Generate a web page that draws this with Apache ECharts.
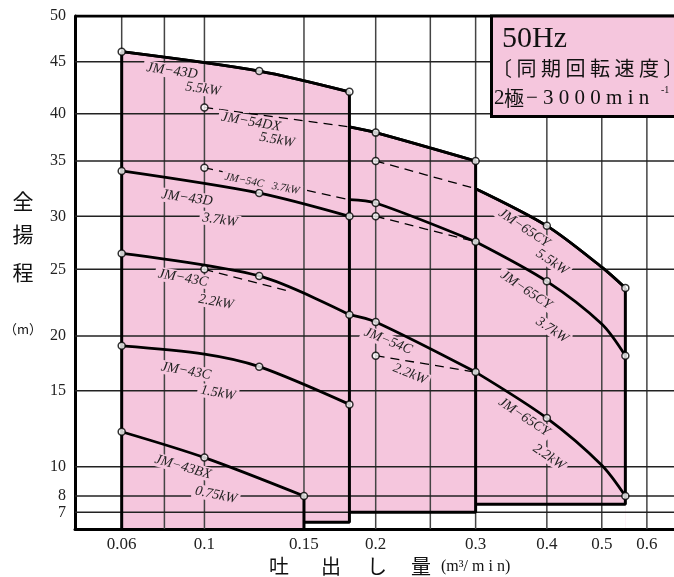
<!DOCTYPE html>
<html>
<head>
<meta charset="utf-8">
<script src="https://cdn.jsdelivr.net/npm/echarts@6/dist/echarts.min.js"></script>
<style>
  html, body { margin: 0; padding: 0; background: #fff; }
  #main { width: 674px; height: 577px; }
</style>
</head>
<body>
<div id="main"></div>
<script>
// 吐出し量 (m3/min) 目盛
const xTickLabels = [0.06, 0.1, 0.15, 0.2, 0.3, 0.4, 0.5, 0.6];
const xGridValues = [0.06, 0.08, 0.1, 0.15, 0.2, 0.25, 0.3, 0.4, 0.5, 0.6];
// 全揚程 (m) 目盛
const yTickLabels = [7, 8, 10, 15, 20, 25, 30, 35, 40, 45, 50];

// 性能曲線 [吐出し量, 全揚程]  (実線)
const jm43d55 = [[0.06, 46.1], [0.125, 44.1], [0.18, 42.1]];
const jm43d37 = [[0.06, 34.1], [0.125, 32.1], [0.18, 30]];
const jm43c22 = [[0.06, 26.5], [0.125, 24.5], [0.18, 21.6]];
const jm43c15 = [[0.06, 19.1], [0.1, 18.35], [0.125, 17.2], [0.18, 14.1]];
const jm43bx075 = [[0.06, 12.3], [0.1, 10.6], [0.15, 8]];
const jm54dx55 = [[0.18, 38.6], [0.2, 38], [0.3, 35]];
const jm54c37 = [[0.18, 31.5], [0.2, 31.2], [0.3, 27.6]];
const jm54c22 = [[0.18, 21.6], [0.2, 21.05], [0.3, 16.7]];
const jm65cy55 = [[0.3, 32.5], [0.4, 29.1], [0.5, 25.2], [0.55, 23.6]];
const jm65cy37 = [[0.3, 27.6], [0.4, 24.1], [0.5, 20.9], [0.55, 18.2]];
const jm65cy22 = [[0.3, 16.7], [0.4, 13.2], [0.5, 10.1], [0.55, 8]];
// 破線部分
const jm54dx55d = [[0.1, 40.6], [0.18, 38.6]];
const jm54c37d = [[0.1, 34.4], [0.18, 31.5]];
const jm54c22d = [[0.1, 25], [0.14, 23.4]];
const jm65cy55d = [[0.2, 35], [0.3, 32.5]];
const jm65cy37d = [[0.2, 30], [0.3, 27.6]];
const jm65cy22d = [[0.2, 18.2], [0.3, 16.7]];
// 丸印
const ratedPoints = [
  [0.06, 46.1], [0.125, 44.1], [0.18, 42.1],
  [0.1, 40.6], [0.2, 38], [0.3, 35],
  [0.1, 34.4], [0.2, 31.2], [0.3, 27.6],
  [0.2, 35], [0.4, 29.1], [0.55, 23.6],
  [0.06, 34.1], [0.125, 32.1], [0.18, 30],
  [0.2, 30], [0.4, 24.1], [0.55, 18.2],
  [0.06, 26.5], [0.125, 24.5], [0.18, 21.6],
  [0.1, 25], [0.2, 21.05], [0.3, 16.7],
  [0.2, 18.2], [0.4, 13.2], [0.55, 8],
  [0.06, 19.1], [0.125, 17.2], [0.18, 14.1],
  [0.06, 12.3], [0.1, 10.6], [0.15, 8]
];
// 範囲の輪郭
const rangeOutlines = [
  [[0.06, 6], [0.06, 46.1]],
  [[0.15, 6], [0.15, 8]],
  [[0.15, 6.4], [0.18, 6.4], [0.18, 42.1]],
  [[0.18, 7], [0.3, 7], [0.3, 35]],
  [[0.3, 7.5], [0.55, 7.5], [0.55, 23.6]]
];
// 範囲の下端 [x1, x2, 全揚程]
const rangeBottoms = [[0.15, 0.18, 6.4], [0.18, 0.3, 7], [0.3, 0.55, 7.5]];

// 軸の目盛位置 (非一様目盛)
const xAxisScale = [[0.044, 0], [0.06, 47], [0.08, 90], [0.1, 130.3], [0.15, 230.5], [0.2, 302.7],
  [0.25, 357.7], [0.3, 403.3], [0.4, 475], [0.5, 530.3], [0.6, 575.7], [0.7, 614]];
const yAxisScale = [[6, 0], [7, 16.7], [8, 33], [10, 62.3], [15, 138.3], [20, 193], [25, 259.7],
  [30, 312.7], [35, 368], [40, 415.3], [45, 467.3], [50, 513]];
const X_MAX = 603, Y_MAX = 513;

function interp(table, v, f) {
  for (let i = 0; i < table.length - 1; i++) {
    const a = table[i], b = table[i + 1];
    if (v <= b[0] || i === table.length - 2) {
      const t = (f(v) - f(a[0])) / (f(b[0]) - f(a[0]));
      return a[1] + t * (b[1] - a[1]);
    }
  }
}
const xs = v => interp(xAxisScale, v, Math.log);
const ys = v => interp(yAxisScale, v, x => x);
const toU = arr => arr.map(p => [xs(p[0]), ys(p[1])]);

const PINK = '#f5c6dd';

function labelFor(list, fn) {
  return function (u) {
    for (const v of list) if (Math.abs(fn(v) - u) < 0.01) return String(v);
    return '';
  };
}

function solid(data, area) {
  const s = {
    type: 'line', data: toU(data), smooth: 0.3, symbol: 'none', z: 6,
    lineStyle: { color: '#000', width: 2.8 }, silent: true
  };
  if (area) {
    s.areaStyle = { color: PINK, opacity: 1, origin: 'start' };
    s.z = 1;
  }
  return s;
}
function dashed(data) {
  return {
    type: 'line', data: toU(data), smooth: 0.3, symbol: 'none', z: 6,
    lineStyle: { color: '#000', width: 1.3, type: [9, 6] }, silent: true
  };
}

let series = [];
// 塗り
series.push(solid(jm43d55, true), solid(jm54dx55, true), solid(jm65cy55, true));
// 下端の白抜き
series.push({
  type: 'custom', z: 2, silent: true,
  data: rangeBottoms.map(r => [xs(r[0]), xs(r[1]), ys(r[2])]),
  renderItem: function (params, api) {
    const p0 = api.coord([api.value(0), ys(6)]);
    const p1 = api.coord([api.value(1), api.value(2)]);
    return { type: 'rect', shape: { x: p0[0], y: p1[1], width: p1[0] - p0[0], height: p0[1] - p1[1] },
      style: { fill: '#fff' } };
  }
});
// 目盛線
xGridValues.forEach(v => series.push({
  type: 'line', data: [[xs(v), 0], [xs(v), Y_MAX]], symbol: 'none', z: 4, silent: true,
  lineStyle: { color: '#444', width: 1.5 }
}));
yTickLabels.forEach(v => series.push({
  type: 'line', data: [[0, ys(v)], [X_MAX, ys(v)]], symbol: 'none', z: 4, silent: true,
  lineStyle: { color: '#222', width: 1.5 }
}));
// 上枠
series.push({
  type: 'line', data: [[0, Y_MAX], [X_MAX, Y_MAX]], symbol: 'none', z: 5, silent: true,
  lineStyle: { color: '#000', width: 3 }
});
// 輪郭
rangeOutlines.forEach(o => series.push({
  type: 'line', data: toU(o), symbol: 'none', z: 5, silent: true,
  lineStyle: { color: '#000', width: 3 }
}));
// 曲線
[jm43d55, jm43d37, jm43c22, jm43c15, jm43bx075, jm54dx55, jm54c37, jm54c22,
 jm65cy55, jm65cy37, jm65cy22].forEach(d => series.push(solid(d, false)));
[jm54dx55d, jm54c37d, jm54c22d, jm65cy55d, jm65cy37d, jm65cy22d].forEach(d => series.push(dashed(d)));
// 丸印
series.push({
  type: 'scatter', data: toU(ratedPoints), symbol: 'circle', symbolSize: 7, z: 7, silent: true,
  itemStyle: { color: '#fff', borderColor: '#000', borderWidth: 1.5 }
});

// 曲線名 [文字, x, y, 角度, 大きさ]
const curveLabels = [
  ['JM−43D', 172, 71, 8, 14], ['5.5kW', 203, 89, 8, 14],
  ['JM−54DX', 251, 122, 10, 14], ['5.5kW', 277, 140, 10, 14],
  ['JM−54C   3.7kW', 262, 184, 11, 11],
  ['JM−43D', 187, 198, 8, 14], ['3.7kW', 220, 220, 8, 14],
  ['JM−43C', 183, 278, 10, 14], ['2.2kW', 216, 302, 10, 14],
  ['JM−43C', 186, 371, 10, 14], ['1.5kW', 218, 393, 10, 14],
  ['JM−43BX', 183, 467, 16, 14], ['0.75kW', 216, 495, 12, 14],
  ['JM−54C', 388, 341, 22, 14], ['2.2kW', 410, 374, 22, 14],
  ['JM−65CY', 524, 228, 34, 14], ['5.5kW', 552, 262, 34, 14],
  ['JM−65CY', 526, 290, 34, 14], ['3.7kW', 552, 330, 34, 14],
  ['JM−65CY', 524, 417, 34, 14], ['2.2kW', 549, 457, 34, 14]
];

const graphic = curveLabels.map(([t, x, y, r, s]) => ({
  type: 'text', x: x, y: y, rotation: -r * Math.PI / 180, z: 20,
  style: { text: t, font: 'italic ' + s + 'px "Liberation Serif"', fill: '#222',
    align: 'center', verticalAlign: 'middle', backgroundColor: PINK, padding: [0, 3] }
}));

// 周波数表示
graphic.push(
  { type: 'rect', z: 20, shape: { x: 491.5, y: 16, width: 200, height: 100.5 },
    style: { fill: PINK, stroke: '#000', lineWidth: 3 } },
  { type: 'text', z: 21, x: 502, y: 39, style: { text: '50Hz', font: '30px "Liberation Serif"',
    fill: '#111', verticalAlign: 'middle' } },
  { type: 'text', z: 21, x: 492, y: 68, style: { text: '〔 同 期 回 転 速 度 〕',
    font: '20px "Noto Sans CJK JP"', fill: '#111', verticalAlign: 'middle' } },
  { type: 'text', z: 21, x: 494, y: 98, style: { text: '2', font: '21px "Liberation Serif"',
    fill: '#111', verticalAlign: 'middle' } },
  { type: 'text', z: 21, x: 504, y: 98, style: { text: '極', font: '20px "Noto Sans CJK JP"',
    fill: '#111', verticalAlign: 'middle' } },
  { type: 'text', z: 21, x: 526, y: 98, style: { text: '− 3 0 0 0 m i n', font: '21px "Liberation Serif"',
    fill: '#111', verticalAlign: 'middle' } },
  { type: 'text', z: 21, x: 661, y: 90, style: { text: '-1', font: '10px "Liberation Serif"',
    fill: '#111', verticalAlign: 'middle' } }
);

// 軸名
[['全', 23, 201], ['揚', 23, 234], ['程', 23, 272]].forEach(([t, x, y]) => graphic.push({
  type: 'text', x: x, y: y, style: { text: t, font: '21px "Noto Sans CJK JP"', fill: '#111',
    align: 'center', verticalAlign: 'middle' }
}));
graphic.push({ type: 'text', x: 23, y: 329, style: { text: '（m）', font: '13px "Noto Sans CJK JP"',
  fill: '#111', align: 'center', verticalAlign: 'middle' } });
[['吐', 279], ['出', 331], ['し', 377], ['量', 421]].forEach(([t, x]) => graphic.push({
  type: 'text', x: x, y: 566, style: { text: t, font: '20px "Noto Sans CJK JP"', fill: '#111',
    align: 'center', verticalAlign: 'middle' }
}));
graphic.push({ type: 'text', x: 441, y: 567, style: { text: '(m³/ m i n)', font: '16px "Liberation Serif"',
  fill: '#111', verticalAlign: 'middle' } });

const chart = echarts.init(document.getElementById('main'));
chart.setOption({
  animation: false,
  grid: { left: 75, top: 16, right: -4, bottom: 48 },
  xAxis: {
    type: 'value', min: 0, max: X_MAX, z: 4,
    axisLine: { show: true, onZero: false, lineStyle: { color: '#000', width: 3 } },
    axisTick: { show: false },
    splitLine: { show: false },
    axisLabel: {
      customValues: xTickLabels.map(xs), formatter: labelFor(xTickLabels, xs),
      fontFamily: 'Liberation Serif', fontSize: 17, color: '#222', margin: 7
    }
  },
  yAxis: {
    type: 'value', min: 0, max: Y_MAX, z: 4,
    axisLine: { show: true, onZero: false, lineStyle: { color: '#000', width: 3 } },
    axisTick: { show: false },
    splitLine: { show: false },
    axisLabel: {
      customValues: yTickLabels.map(ys), formatter: labelFor(yTickLabels, ys),
      fontFamily: 'Liberation Serif', fontSize: 16, color: '#222', margin: 9
    }
  },
  series: series,
  graphic: graphic
});
</script>
</body>
</html>
